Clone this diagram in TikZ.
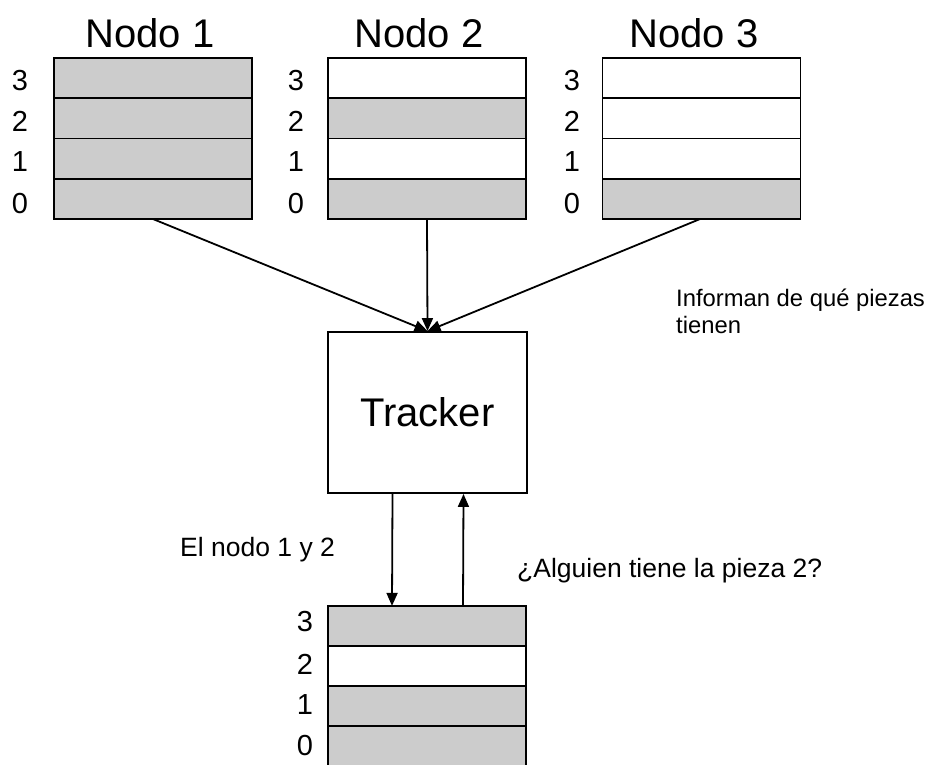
\documentclass[tikz,border=0pt]{standalone}
\usepackage{fontspec}
\setmainfont{Liberation Sans}
\usetikzlibrary{arrows.meta}
\definecolor{cellgray}{HTML}{CCCCCC}
\begin{document}
\begin{tikzpicture}[x=1pt,y=-1pt,
  cell/.style={draw=black, line width=1.9pt, minimum width=198pt, minimum height=40.25pt, inner sep=0pt, outer sep=0pt},
  full/.style={cell, fill=cellgray},
  blank/.style={cell, fill=white},
  idx/.style={font=\fontsize{29}{29}\selectfont, inner sep=0pt},
  title/.style={font=\fontsize{40}{40}\selectfont, inner sep=0pt},
  note/.style={font=\fontsize{26.5}{26.5}\selectfont, inner sep=0pt, anchor=base west},
  conn/.style={line width=1.8pt, -{Triangle[length=13pt,width=11pt]}}]
\useasboundingbox (0,0) rectangle (925,764);

% Titles
\node[title] (t1) at (150,33) {Nodo 1};
\node[title] (t2) at (419,33) {Nodo 2};
\node[title] (t3) at (694,33) {Nodo 3};

% Node 1
\node[full]  (a3) at (153,78.1) {};
\node[full]  (a2) at (153,118.4) {};
\node[full]  (a1) at (153,158.6) {};
\node[full]  (a0) at (153,198.9) {};
% Node 2
\node[blank] (b3) at (427,78.1) {};
\node[full]  (b2) at (427,118.4) {};
\node[blank] (b1) at (427,158.6) {};
\node[full]  (b0) at (427,198.9) {};
% Node 3
\node[blank] (c3) at (701.5,78.1) {};
\node[blank] (c2) at (701.5,118.4) {};
\node[blank] (c1) at (701.5,158.6) {};
\node[full]  (c0) at (701.5,198.9) {};

% Index labels
\foreach \lx/\p in {20/a,296/b,572/c}{
  \node[idx] (\p l3) at (\lx,81) {3};
  \node[idx] (\p l2) at (\lx,121.5) {2};
  \node[idx] (\p l1) at (\lx,162) {1};
  \node[idx] (\p l0) at (\lx,204) {0};
}

% Tracker
\node[draw=black, line width=1.9pt, minimum width=199pt, minimum height=161pt, inner sep=0pt,
      font=\fontsize{40}{40}\selectfont] (tracker) at (427.5,412.5) {Tracker};

% Requesting node
\node[full]  (d3) at (427,626) {};
\node[blank] (d2) at (427,666) {};
\node[full]  (d1) at (427,706) {};
\node[full]  (d0) at (427,746) {};
\node[idx] (dl3) at (305,622) {3};
\node[idx] (dl2) at (305,664) {2};
\node[idx] (dl1) at (305,705) {1};
\node[idx] (dl0) at (305,746) {0};

% Connectors
\draw[conn] (a0.south) -- (tracker.north);
\draw[conn] (b0.south) -- (tracker.north);
\draw[conn] ([xshift=-1.5pt]c0.south) -- (tracker.north);
\draw[conn] ([xshift=-35pt]tracker.south) -- ([xshift=-35pt]d3.north);
\draw[conn] ([xshift=36pt]d3.north) -- ([xshift=36pt]tracker.south);

% Notes
\node[note, font=\fontsize{23.8}{23.8}\selectfont] (n1) at (676,306) {Informan de qué piezas};
\node[note, font=\fontsize{23.8}{23.8}\selectfont] (n2) at (676,333) {tienen};
\node[note] (n3) at (180,556) {El nodo 1 y 2};
\node[note] (n4) at (517,577) {¿Alguien tiene la pieza 2?};
\end{tikzpicture}
\end{document}
